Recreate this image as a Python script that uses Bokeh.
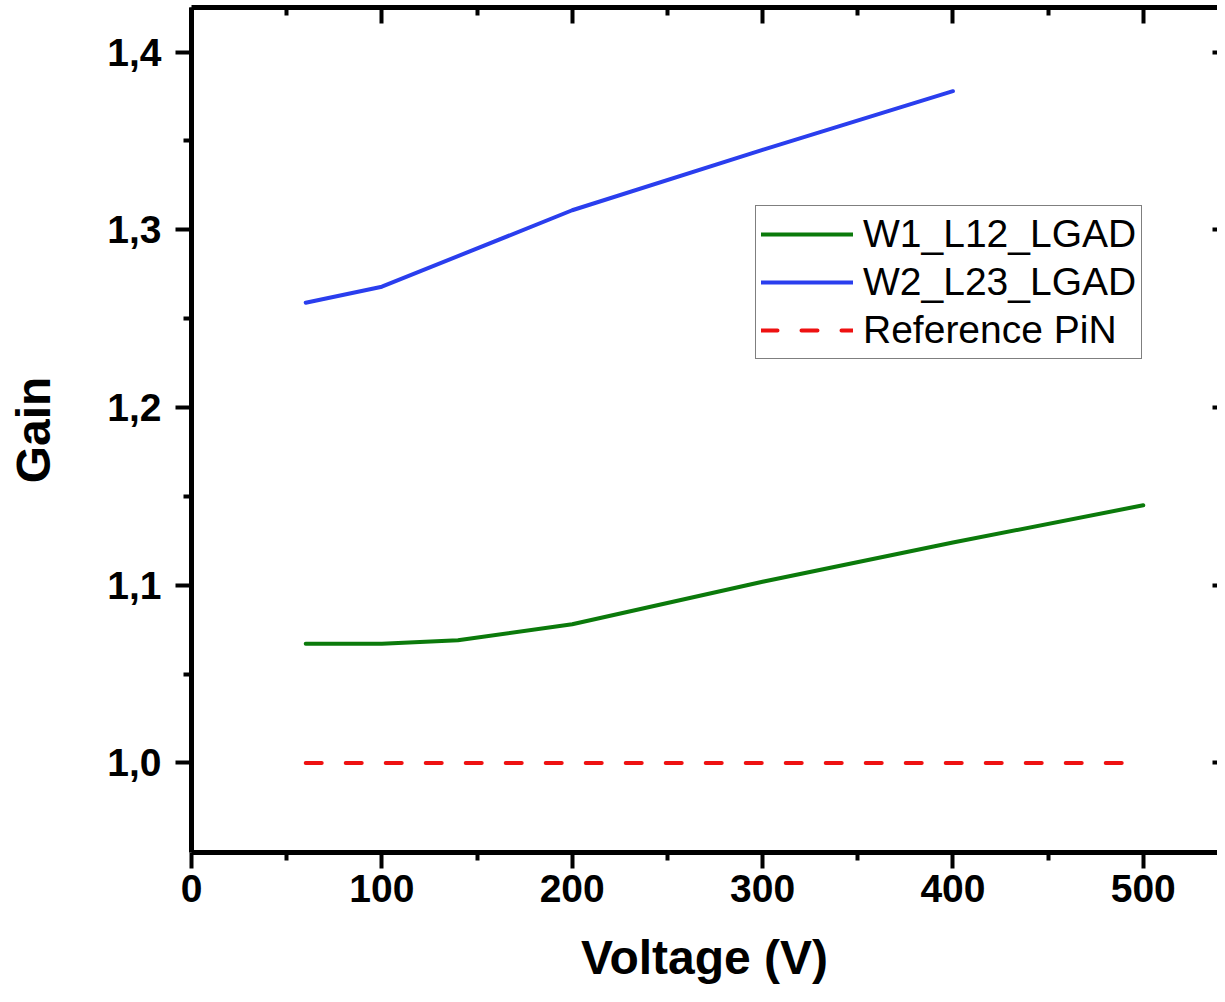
from bokeh.plotting import figure
from bokeh.models import Range1d, LinearAxis, FixedTicker, CustomJSTickFormatter
from bokeh.embed import file_html
from bokeh.resources import INLINE

# ---- data ----
voltage_w1 = [60, 100, 140, 200, 300, 400, 500]
gain_w1 = [1.067, 1.067, 1.069, 1.078, 1.102, 1.124, 1.145]

voltage_w2 = [60, 100, 200, 300, 400]
gain_w2 = [1.259, 1.268, 1.311, 1.345, 1.378]

voltage_pin = [60, 500]
gain_pin = [1.0, 1.0]

x_major = [0, 100, 200, 300, 400, 500]
x_minor = [50, 150, 250, 350, 450]
y_major = [1.0, 1.1, 1.2, 1.3, 1.4]
y_minor = [1.05, 1.15, 1.25, 1.35]

FONT = "Liberation Sans"

p = figure(width=1217, height=994,
           x_range=Range1d(0, 539), y_range=Range1d(0.9496, 1.4251),
           output_backend="svg", toolbar_location=None,
           min_border_left=191, min_border_right=0, min_border_top=7,
           min_border_bottom=142)
p.grid.visible = False
p.outline_line_color = None
p.background_fill_color = "white"
p.border_fill_color = "white"

xt = FixedTicker(ticks=x_major, minor_ticks=x_minor)
yt = FixedTicker(ticks=y_major, minor_ticks=y_minor)

def style(ax):
    ax.axis_line_width = 5
    ax.axis_line_color = "black"
    ax.major_tick_line_width = 4
    ax.minor_tick_line_width = 4
    ax.major_tick_line_color = "black"
    ax.minor_tick_line_color = "black"
    ax.major_label_text_font = FONT
    ax.major_label_text_font_style = "bold"
    ax.major_label_text_font_size = "39px"
    ax.major_label_text_color = "black"
    ax.axis_label_text_font = FONT
    ax.axis_label_text_font_style = "bold"
    ax.axis_label_text_font_size = "48px"
    ax.axis_label_text_color = "black"

xa = p.xaxis[0]
style(xa)
xa.ticker = xt
xa.major_tick_out = 16
xa.major_tick_in = 0
xa.minor_tick_out = 8
xa.minor_tick_in = 0
xa.major_label_standoff = 6
xa.axis_label = "Voltage (V)"
xa.axis_label_standoff = 26

ya = p.yaxis[0]
style(ya)
ya.ticker = yt
ya.major_tick_out = 16
ya.major_tick_in = 0
ya.minor_tick_out = 8
ya.minor_tick_in = 0
ya.major_label_standoff = 14
ya.axis_label = "Gain"
ya.axis_label_standoff = 44
ya.formatter = CustomJSTickFormatter(code="return tick.toFixed(1).replace('.', ',');")

top = LinearAxis(ticker=xt)
style(top)
top.major_tick_in = 16
top.major_tick_out = 0
top.minor_tick_in = 8
top.minor_tick_out = 0
top.major_label_text_font_size = "0px"
top.major_label_standoff = 0
top.formatter = CustomJSTickFormatter(code="return '';")
p.add_layout(top, "above")

right = LinearAxis(ticker=FixedTicker(ticks=y_major, minor_ticks=[]))
style(right)
right.axis_line_color = None
right.major_tick_in = 5
right.major_tick_out = 0
right.minor_tick_in = 0
right.minor_tick_out = 0
right.major_label_text_font_size = "0px"
right.major_label_standoff = 0
right.formatter = CustomJSTickFormatter(code="return '';")
p.add_layout(right, "right")

p.line(voltage_w1, gain_w1, line_color="#0B7A0B", line_width=4,
       line_join="round", line_cap="round", legend_label="W1_L12_LGAD")
p.line(voltage_w2, gain_w2, line_color="#2A3EEE", line_width=4,
       line_join="round", line_cap="round", legend_label="W2_L23_LGAD")
p.line(voltage_pin, gain_pin, line_color="#EE1111", line_width=4,
       line_dash="16 24", line_cap="round", legend_label="Reference PiN")

lg = p.legend[0]
lg.location = (564, 493)
lg.label_text_font = FONT
lg.label_text_font_size = "39px"
lg.label_text_color = "black"
lg.glyph_width = 92
lg.glyph_height = 46
lg.label_height = 46
lg.spacing = 2
lg.padding = 5
lg.margin = 0
lg.label_standoff = 10
lg.border_line_color = "black"
lg.border_line_width = 1.5
lg.background_fill_color = "white"
lg.background_fill_alpha = 1.0

open("out.html", "w").write(file_html(p, INLINE))
